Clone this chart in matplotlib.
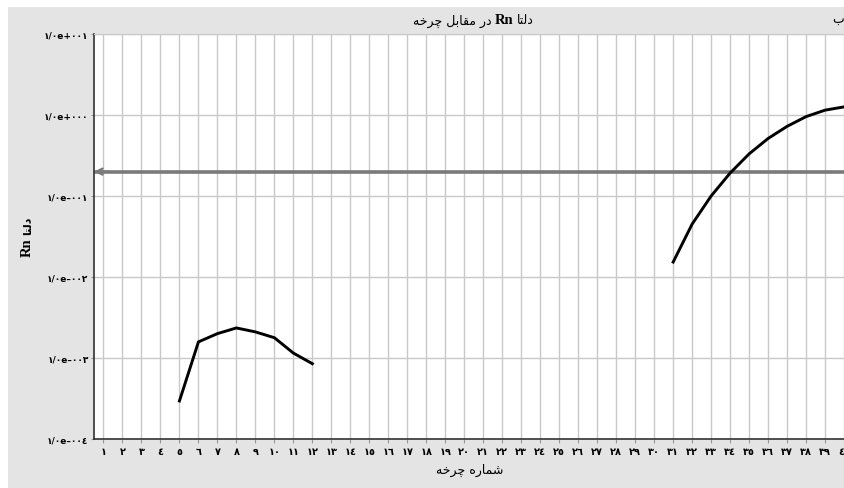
import re
import matplotlib
matplotlib.use("Agg")
import matplotlib.pyplot as plt
from matplotlib.patches import Rectangle

# ---------------- data ----------------
cycles_a = [5, 6, 7, 8, 9, 10, 11, 12]
delta_a = [2.95e-4, 1.58e-3, 2.0e-3, 2.35e-3, 2.1e-3, 1.78e-3, 1.15e-3, 8.5e-4]
cycles_b = [31, 32, 33, 34, 35, 36, 37, 38, 39, 40]
delta_b = [1.53e-2, 4.5e-2, 0.10, 0.192, 0.331, 0.513, 0.724, 0.955, 1.148, 1.259]
threshold = 0.2
x_ticks = list(range(1, 41))
y_ticks = [1e-4, 1e-3, 1e-2, 1e-1, 1e0, 1e1]
y_tick_labels = ["١/٠e–٠٠٤", "١/٠e–٠٠٣", "١/٠e–٠٠٢", "١/٠e–٠٠١", "١/٠e+٠٠٠", "١/٠e+٠٠١"]
title_fa_left = "در مقابل چرخه"
title_rn = "Rn"
title_fa_right = "دلتا"
xlabel_text = "شماره چرخه"
ylabel_fa = "دلتا"
corner_text = "ب"

# ------------- minimal Arabic shaping (visual order) -------------
FORMS = {  # isolated, final, initial, medial
    'ا': ('\uFE8D', '\uFE8E', None, None),
    'ب': ('\uFE8F', '\uFE90', '\uFE91', '\uFE92'),
    'ت': ('\uFE95', '\uFE96', '\uFE97', '\uFE98'),
    'چ': ('\uFB7A', '\uFB7B', '\uFB7C', '\uFB7D'),
    'خ': ('\uFEA5', '\uFEA6', '\uFEA7', '\uFEA8'),
    'د': ('\uFEA9', '\uFEAA', None, None),
    'ر': ('\uFEAD', '\uFEAE', None, None),
    'ش': ('\uFEB5', '\uFEB6', '\uFEB7', '\uFEB8'),
    'ق': ('\uFED5', '\uFED6', '\uFED7', '\uFED8'),
    'ل': ('\uFEDD', '\uFEDE', '\uFEDF', '\uFEE0'),
    'م': ('\uFEE1', '\uFEE2', '\uFEE3', '\uFEE4'),
    'ه': ('\uFEE9', '\uFEEA', '\uFEEB', '\uFEEC'),
}


def dual(c):
    return c in FORMS and FORMS[c][2] is not None


def shape_word(w):
    out = []
    for i, c in enumerate(w):
        if c not in FORMS:
            out.append(c)
            continue
        prev_j = i > 0 and dual(w[i - 1])
        next_j = dual(c) and i + 1 < len(w) and w[i + 1] in FORMS
        iso, fin, ini, med = FORMS[c]
        if prev_j and next_j:
            out.append(med)
        elif prev_j:
            out.append(fin)
        elif next_j:
            out.append(ini)
        else:
            out.append(iso)
    return "".join(reversed(out))


def rtl(s):
    toks = re.findall(r"\s+|\S+", s)
    res = []
    for t in reversed(toks):
        if any(ch in FORMS for ch in t):
            res.append(shape_word(t))
        else:
            res.append(t)
    return "".join(res)


# ---------------- figure ----------------
W, H = 845, 489
fig = plt.figure(figsize=(W / 100, H / 100), dpi=100)
fig.patch.set_facecolor("white")
fig.patches.append(Rectangle((8 / W, 0), 1, (H - 8) / H, transform=fig.transFigure,
                             facecolor="#e4e4e4", edgecolor="none", zorder=-10))


def px(x, y):
    return x / W, 1 - y / H


ax = fig.add_axes([94 / W, 49 / H, (W - 94) / W, (440 - 35) / H])
ax.set_facecolor("white")
ax.set_yscale("log")
ax.set_ylim(1e-4, 1e1)
ax.set_xlim(0.5, 40.05)

ax.set_xticks(x_ticks)
digits = str.maketrans("0123456789", "٠١٢٣٤٥٦٧٨٩")
ax.set_xticklabels([str(v).translate(digits) for v in x_ticks],
                   fontsize=7, fontweight="bold", family=["DejaVu Sans"])
ax.set_yticks(y_ticks)
ax.set_yticklabels(y_tick_labels, fontsize=6.5, fontweight="bold", family=["DejaVu Sans"])
ax.yaxis.set_minor_locator(matplotlib.ticker.NullLocator())
ax.tick_params(axis="x", length=3, color="#999999", pad=2)
ax.tick_params(axis="y", length=2, color="#999999", pad=2)

ax.grid(True, which="major", color="#c8c8c8", linewidth=1.0)
ax.set_axisbelow(True)
ax.spines["right"].set_visible(False)
ax.spines["top"].set_color("#c8c8c8")
ax.spines["left"].set_color("#333333")
ax.spines["bottom"].set_color("#333333")
ax.spines["left"].set_linewidth(1.2)
ax.spines["bottom"].set_linewidth(1.2)

ax.plot(cycles_a, delta_a, color="black", linewidth=2.1, solid_joinstyle="round", zorder=3)
ax.plot(cycles_b, delta_b, color="black", linewidth=2.1, solid_joinstyle="round", zorder=3)

ax.axhline(threshold, color="#7a7a7a", linewidth=2.6, zorder=2)
ax.annotate("", xy=(0.5, threshold), xytext=(1.3, threshold),
            arrowprops=dict(arrowstyle="->", color="#7a7a7a", lw=1.6,
                            mutation_scale=11, shrinkA=0, shrinkB=0), zorder=4)

# title pieces
fa = ["DejaVu Sans"]
fig.text(*px(492, 21), rtl(title_fa_left), ha="right", va="center", fontsize=9, family=fa)
fig.text(*px(504, 20), title_rn, ha="center", va="center", fontsize=10.5,
         fontweight="bold", family=["Liberation Serif"])
fig.text(*px(517, 21), rtl(title_fa_right), ha="left", va="center", fontsize=9, family=fa)
fig.text(*px(838, 19), rtl(corner_text), ha="center", va="center", fontsize=9, family=fa)

# axis labels
fig.text(*px(470, 470), rtl(xlabel_text), ha="center", va="center", fontsize=9, family=fa)
fig.text(*px(27, 248), title_rn, ha="center", va="center", rotation=90, fontsize=10.5,
         fontweight="bold", family=["Liberation Serif"])
fig.text(*px(28, 226), rtl(ylabel_fa), ha="center", va="center", rotation=90, fontsize=8,
         fontweight="bold", family=fa)

fig.savefig("out.png", dpi=100)
